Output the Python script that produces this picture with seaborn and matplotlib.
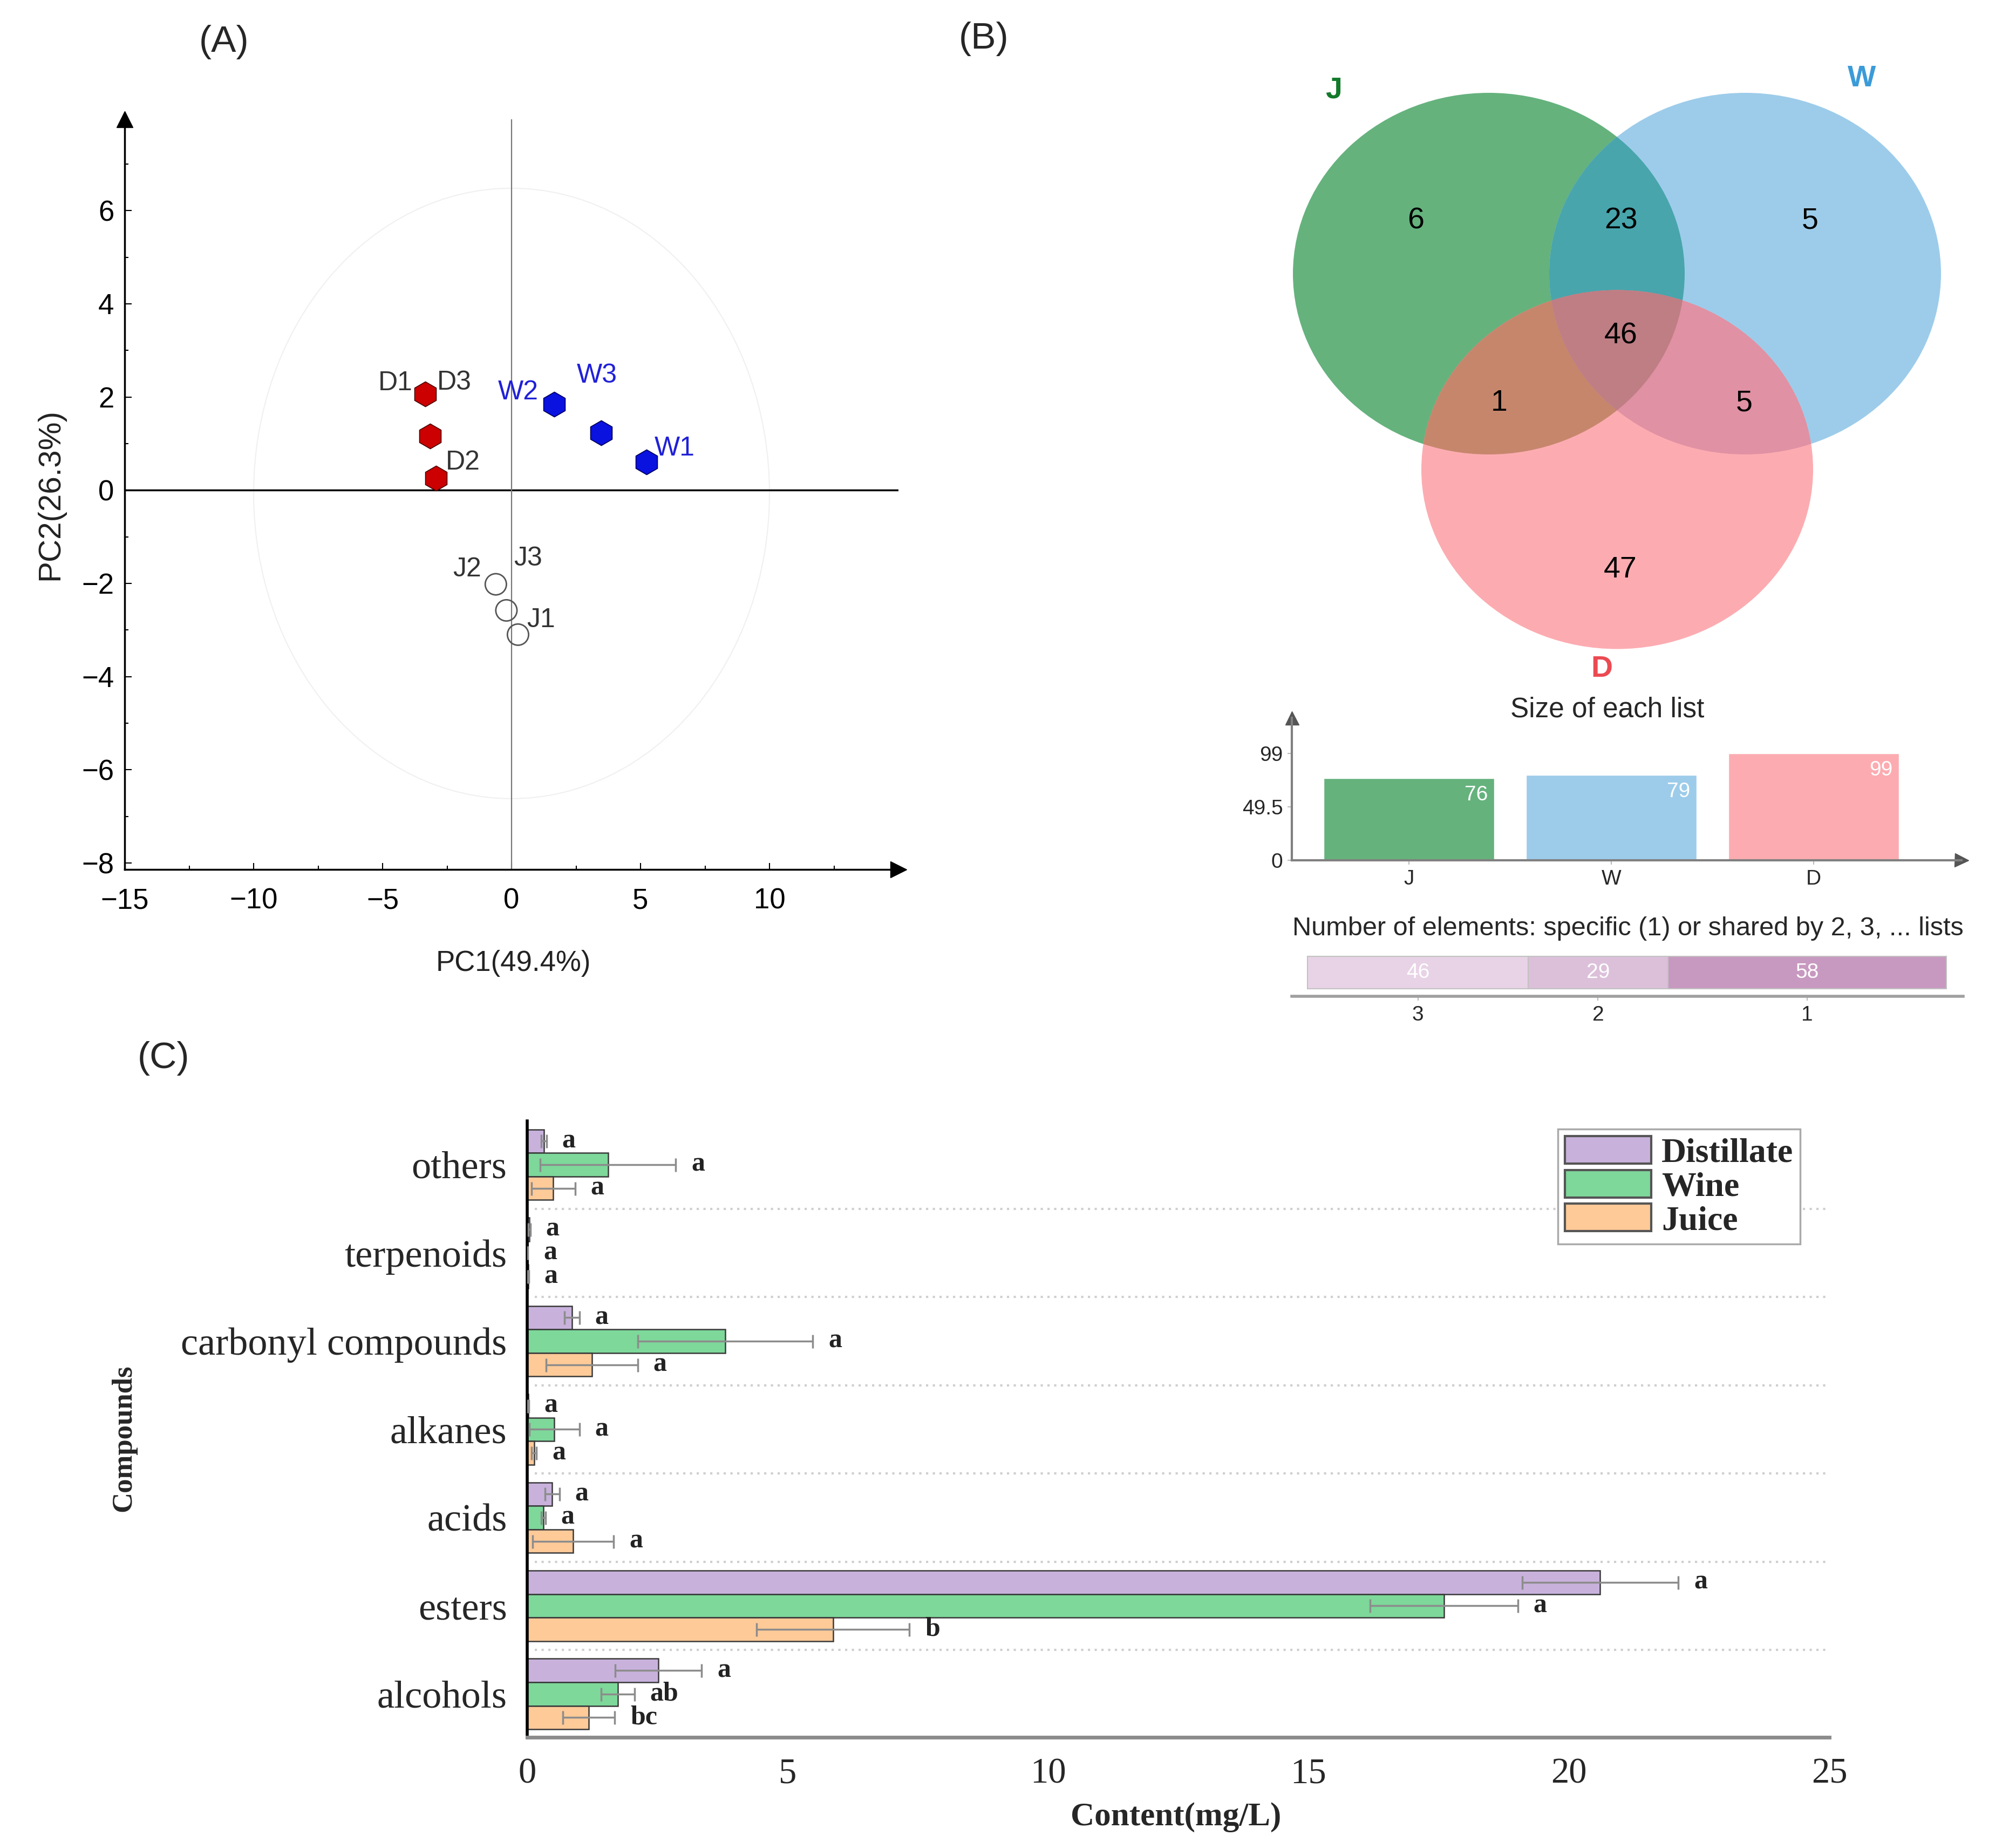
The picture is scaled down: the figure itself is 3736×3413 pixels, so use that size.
import numpy as np
import pandas as pd
import seaborn as sns
import matplotlib.pyplot as plt
from matplotlib.patches import Ellipse, Polygon
from matplotlib.ticker import AutoMinorLocator

# ---- data -------------------------------------------------------------
# (A) PCA scores
pca_samples = ['D1', 'D3', 'D2', 'W2', 'W3', 'W1', 'J2', 'J3', 'J1']
pca_group = ['D', 'D', 'D', 'W', 'W', 'W', 'J', 'J', 'J']
pc1 = [-3.35, -3.16, -2.93, 1.66, 3.48, 5.23, -0.61, -0.20, 0.25]
pc2 = [2.06, 1.16, 0.26, 1.84, 1.23, 0.61, -2.02, -2.58, -3.10]
pc1_label = 'PC1(49.4%)'
pc2_label = 'PC2(26.3%)'

# (B) venn counts
venn_sets = ['J', 'W', 'D']
venn_regions = [('J',), ('J', 'W'), ('W',), ('J', 'W', 'D'), ('J', 'D'), ('W', 'D'), ('D',)]
venn_counts = [6, 23, 5, 46, 1, 5, 47]
list_sizes = [76, 79, 99]
share_levels = ['3', '2', '1']
share_counts = [46, 29, 58]

# (C) compound classes
compounds = ['others', 'terpenoids', 'carbonyl compounds', 'alkanes', 'acids', 'esters', 'alcohols']
samples = ['Distillate', 'Wine', 'Juice']
distillate = [0.32, 0.04, 0.86, 0.02, 0.48, 20.6, 2.52]
distillate_err = [0.05, 0.02, 0.14, 0.01, 0.14, 1.50, 0.83]
wine = [1.55, 0.01, 3.80, 0.52, 0.31, 17.6, 1.74]
wine_err = [1.30, 0.005, 1.68, 0.48, 0.04, 1.42, 0.32]
juice = [0.50, 0.02, 1.24, 0.13, 0.88, 5.87, 1.18]
juice_err = [0.42, 0.01, 0.88, 0.05, 0.78, 1.47, 0.50]
distillate_sig = ['a', 'a', 'a', 'a', 'a', 'a', 'a']
wine_sig = ['a', 'a', 'a', 'a', 'a', 'a', 'ab']
juice_sig = ['a', 'a', 'a', 'a', 'a', 'b', 'bc']

# ---- style ------------------------------------------------------------
sns.set_theme(style='white')
plt.rcParams['font.family'] = ['Liberation Sans', 'DejaVu Sans']
plt.rcParams['axes.unicode_minus'] = True
SERIF = ['Liberation Serif', 'DejaVu Serif']

W_PX, H_PX = 3736, 3413
fig = plt.figure(figsize=(W_PX / 100, H_PX / 100), dpi=100)


def frac(x0, y0, x1, y1):
    return [x0 / W_PX, 1 - y1 / H_PX, (x1 - x0) / W_PX, (y1 - y0) / H_PX]


def ftext(x, y, s, **kw):
    fig.text(x / W_PX, 1 - y / H_PX, s, ha='center', va='center', **kw)


ftext(415, 78, '(A)', fontsize=50)
ftext(1823, 72, '(B)', fontsize=50)
ftext(303, 1961, '(C)', fontsize=50)

# ---- (A) PCA -----------------------------------------------------------
axA = fig.add_axes(frac(231, 221, 1665, 1611))
pca = pd.DataFrame({'sample': pca_samples, 'group': pca_group, 'pc1': pc1, 'pc2': pc2})

axA.add_patch(Ellipse((0, -0.07), 20, 13.1, fill=False, edgecolor='#f0f0f0', lw=1.5))
axA.axhline(0, color='black', lw=2.5, zorder=1)
axA.axvline(0, color='#777777', lw=1.6, zorder=1)

sns.scatterplot(data=pca[pca.group == 'D'], x='pc1', y='pc2', color='#cc0000', marker='h',
                s=1100, edgecolor='#4a0000', linewidth=1.2, ax=axA, zorder=3)
sns.scatterplot(data=pca[pca.group == 'W'], x='pc1', y='pc2', color='#0a12e0', marker='h',
                s=1100, edgecolor='#00005a', linewidth=1.2, ax=axA, zorder=3)
sns.scatterplot(data=pca[pca.group == 'J'], x='pc1', y='pc2', marker='o', s=800,
                facecolors='none', edgecolor='#555555', linewidth=2, ax=axA, zorder=3)

lab_off = {'D1': (-40, 15), 'D3': (32, 71), 'D2': (36, 21),
           'W2': (-48, 16), 'W3': (-6, 76), 'W1': (38, 18),
           'J2': (-38, 20), 'J3': (29, 69), 'J1': (31, 19)}
lab_col = {'D': '#333333', 'W': '#2020d8', 'J': '#333333'}
for _, r in pca.iterrows():
    axA.annotate(r['sample'], (r.pc1, r.pc2), xytext=lab_off[r['sample']],
                 textcoords='offset points', ha='center', va='center',
                 fontsize=36, color=lab_col[r.group])

axA.set_xlim(-15, 15)
axA.set_ylim(-8.14, 7.96)
axA.set_xticks(range(-15, 11, 5))
axA.set_yticks(range(-8, 7, 2))
axA.xaxis.set_minor_locator(AutoMinorLocator(2))
axA.yaxis.set_minor_locator(AutoMinorLocator(2))
axA.tick_params(which='both', direction='in', width=1.5, colors='black', labelsize=38,
                left=True, bottom=True)
axA.tick_params(which='major', length=9)
axA.tick_params(which='minor', length=5)
axA.tick_params(axis='x', pad=24)
axA.tick_params(axis='y', pad=14)
sns.despine(ax=axA)
for s in ['left', 'bottom']:
    axA.spines[s].set_color('black')
    axA.spines[s].set_linewidth(2.5)
axA.plot(1, 0, '>', color='black', ms=22, transform=axA.transAxes, clip_on=False)
axA.plot(0, 1, '^', color='black', ms=22, transform=axA.transAxes, clip_on=False)
axA.set_xlabel(pc1_label, fontsize=38, color='#222222')
axA.set_ylabel(pc2_label, fontsize=42, color='#222222')
axA.xaxis.label.set_va('center')
axA.yaxis.label.set_va('center')
axA.xaxis.set_label_coords(0.502, -0.125)
axA.yaxis.set_label_coords(-0.096, 0.5)

# ---- (B) venn ----------------------------------------------------------
ax_v = fig.add_axes(frac(2300, 100, 3700, 1280))
ax_v.set_xlim(2300, 3700)
ax_v.set_ylim(1280, 100)
ax_v.axis('off')

geom = {'J': (2759, 507, 726, 670), 'W': (3234, 507, 726, 670), 'D': (2997, 870, 726, 665)}
solo_col = {'J': '#65b27d', 'W': '#9dccea', 'D': '#fcacb1'}
pair_col = {('J', 'W'): '#48a5ac', ('J', 'D'): '#c6866c', ('W', 'D'): '#e091a3'}
triple_col = '#be7e84'


def ell(k, **kw):
    cx, cy, w, h = geom[k]
    return Ellipse((cx, cy), w, h, transform=ax_v.transData, lw=0, **kw)


def ell_pts(k, n=1440):
    cx, cy, w, h = geom[k]
    t = np.linspace(0, 2 * np.pi, n, endpoint=False)
    return np.column_stack([cx + w / 2 * np.cos(t), cy + h / 2 * np.sin(t)])


def inside(p, k):
    cx, cy, w, h = geom[k]
    return ((p[:, 0] - cx) / (w / 2)) ** 2 + ((p[:, 1] - cy) / (h / 2)) ** 2 <= 1


for k in venn_sets:
    ax_v.add_patch(ell(k, facecolor=solo_col[k]))
for (a, b), c in pair_col.items():
    p = ax_v.add_patch(ell(b, facecolor=c))
    p.set_clip_path(ell(a))
pj, pw = ell_pts('J'), ell_pts('W')
pts = np.vstack([pj[inside(pj, 'W')], pw[inside(pw, 'J')]])
cen = pts.mean(axis=0)
pts = pts[np.argsort(np.arctan2(pts[:, 1] - cen[1], pts[:, 0] - cen[0]))]
tri = ax_v.add_patch(Polygon(pts, closed=True, facecolor=triple_col, lw=0))
tri.set_clip_path(ell('D'))

region_xy = [(2624, 410), (3004, 410), (3354, 410), (3004, 622), (2778, 747), (3232, 747), (3003, 1056)]
for (x, y), n in zip(region_xy, venn_counts):
    ax_v.text(x, y, str(n), ha='center', va='center', fontsize=40, color='black')
set_lab_xy = {'J': (2472, 167), 'W': (3450, 146), 'D': (2968, 1240)}
set_lab_col = {'J': '#137a2a', 'W': '#3b9bd8', 'D': '#ec4a52'}
for k in venn_sets:
    ax_v.text(*set_lab_xy[k], k, ha='center', va='center', fontsize=40, fontweight='bold',
              color=set_lab_col[k])

# size of each list
axS = fig.add_axes(frac(2394, 1330, 3635, 1594))
sns.barplot(x=venn_sets, y=list_sizes, hue=venn_sets, palette=[solo_col[k] for k in venn_sets],
            width=0.843, saturation=1, legend=False, ax=axS)
for i, v in enumerate(list_sizes):
    axS.text(i + 0.39, v - 15.5, str(v), ha='right', va='center', color='white', fontsize=28)
axS.set_xlim(-0.579, 2.73)
axS.set_ylim(0, 132)
axS.set_yticks([0, 49.5, 99])
axS.set_yticklabels(['0', '49.5', '99'])
axS.tick_params(labelsize=28, length=6, width=1.5, color='#bbbbbb', left=True, bottom=True, pad=6)
sns.despine(ax=axS)
for s in ['left', 'bottom']:
    axS.spines[s].set_color('#808080')
    axS.spines[s].set_linewidth(3)
axS.plot(1, 0, '>', color='#555555', ms=18, transform=axS.transAxes, clip_on=False)
axS.plot(0, 1, '^', color='#555555', ms=18, transform=axS.transAxes, clip_on=False)
ftext(2979, 1315, 'Size of each list', fontsize=37)

# shared by n lists
axN = fig.add_axes(frac(2394, 1765, 3638, 1846))
share_col = ['#e8d3e6', '#dcc0da', '#c899c0']
starts = np.concatenate([[0], np.cumsum(share_counts)[:-1]])
axN.barh(0, share_counts, left=starts, height=0.96, color=share_col, edgecolor='#c2c2c2', lw=1.5)
for x0, n in zip(starts, share_counts):
    axN.text(x0 + n / 2, 0, str(n), ha='center', va='center', color='white', fontsize=28)
axN.set_xlim(-3.25, 136.5)
axN.set_ylim(-0.7, 0.6)
axN.set_xticks(starts + np.array(share_counts) / 2)
axN.set_xticklabels(share_levels)
axN.set_yticks([])
axN.tick_params(labelsize=28, length=6, width=1.5, color='#bbbbbb', bottom=True, pad=6)
sns.despine(ax=axN, left=True)
axN.spines['bottom'].set_color('#a0a0a0')
axN.spines['bottom'].set_linewidth(4)
ftext(3017, 1720, 'Number of elements: specific (1) or shared by 2, 3, ... lists', fontsize=35)

# ---- (C) compound classes ---------------------------------------------
axC = fig.add_axes(frac(977, 2077, 3390, 3219))
df = pd.DataFrame({
    'compound': compounds * 3,
    'sample': np.repeat(samples, len(compounds)),
    'value': distillate + wine + juice,
    'err': distillate_err + wine_err + juice_err,
    'sig': distillate_sig + wine_sig + juice_sig,
})
pal = {'Distillate': '#c8b2dc', 'Wine': '#7dd89a', 'Juice': '#fdca98'}
sns.barplot(data=df, y='compound', x='value', hue='sample', hue_order=samples, order=compounds,
            orient='h', palette=pal, width=0.8, saturation=1, errorbar=None,
            edgecolor='#3a3a3a', linewidth=1.8, ax=axC)

for cont, smp in zip(axC.containers, samples):
    sub = df[df['sample'] == smp].set_index('compound').loc[compounds]
    ys = [b.get_y() + b.get_height() / 2 for b in cont]
    xs = [b.get_width() for b in cont]
    axC.errorbar(xs, ys, xerr=sub['err'].values, fmt='none', ecolor='#8c8c8c',
                 elinewidth=2.5, capsize=9, capthick=2.5, zorder=4)
    for x, y, e, s in zip(xs, ys, sub['err'].values, sub['sig'].values):
        axC.text(x + e + 0.3, y, s, ha='left', va='center', fontsize=36, fontweight='bold',
                 family=SERIF, color='#222222')

for k in range(len(compounds) - 1):
    axC.axhline(k + 0.5, xmin=0.006, color='#cfcfcf', ls=(0, (1, 2)), lw=3, zorder=0)

axC.set_xlim(0, 25)
axC.set_ylim(6.49, -0.495)
axC.set_xticks(range(0, 26, 5))
axC.tick_params(length=0, labelsize=48)
axC.tick_params(axis='y', labelsize=52, pad=27)
axC.tick_params(axis='x', pad=27)
for lab in axC.get_xticklabels() + axC.get_yticklabels():
    lab.set_family(SERIF)
sns.despine(ax=axC)
axC.spines['left'].set_color('black')
axC.spines['left'].set_linewidth(4)
axC.spines['bottom'].set_color('#8c8c8c')
axC.spines['bottom'].set_linewidth(5)
axC.set_xlabel('Content(mg/L)', fontsize=44, fontweight='bold', family=SERIF)
axC.set_ylabel('Compounds', fontsize=38, fontweight='bold', family=SERIF)
axC.xaxis.label.set_va('center')
axC.yaxis.label.set_va('center')
axC.xaxis.set_label_coords(0.498, -0.13)
axC.yaxis.set_label_coords(-0.31, 0.485)

leg = axC.legend(loc='upper right', bbox_to_anchor=(0.9776, 0.9869), borderaxespad=0,
                 frameon=True, fancybox=False, edgecolor='#aaaaaa', framealpha=1,
                 prop={'family': SERIF, 'weight': 'bold', 'size': 46},
                 handlelength=2.5, handleheight=0.85, labelspacing=0.02, borderpad=0.2,
                 handletextpad=0.3)
leg.get_frame().set_linewidth(2.5)
for h in leg.legend_handles:
    h.set_edgecolor('#555555')
    h.set_linewidth(3)

fig.savefig('out.png', dpi=100)
